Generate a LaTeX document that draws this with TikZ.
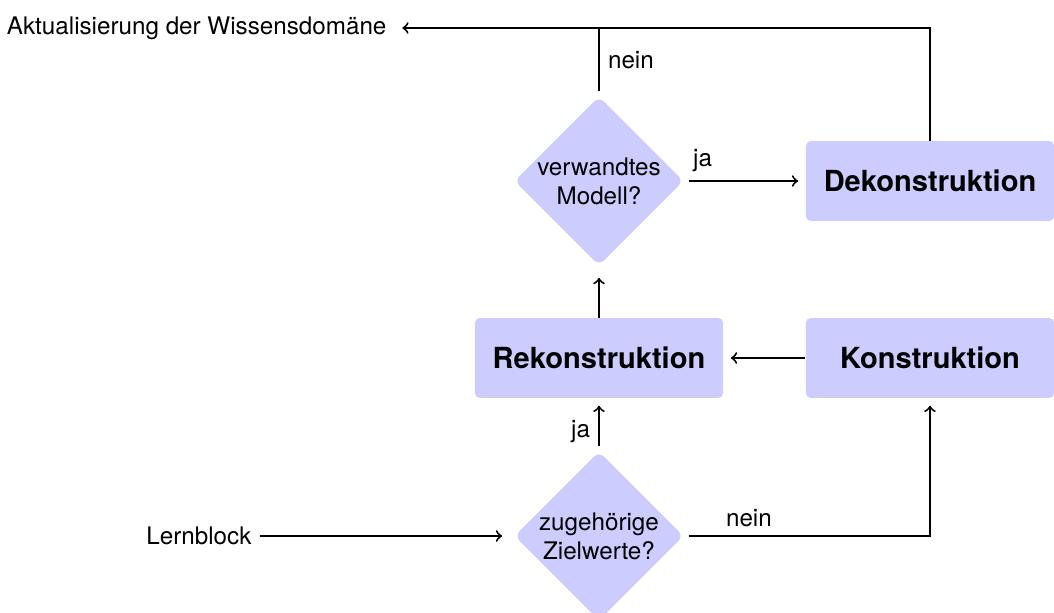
\documentclass[tikz,border=0pt]{standalone}
\usepackage{fontspec}
\setmainfont{TeX Gyre Heros}
\usetikzlibrary{shapes.geometric}
\begin{document}
\begin{tikzpicture}[x=0.413pt,y=-0.413pt,
  box/.style={rectangle, rounded corners=2pt, fill=blue!20, minimum width=102.5pt, minimum height=33pt, font=\large\bfseries},
  decision/.style={diamond, aspect=1, rounded corners=3pt, fill=blue!20, inner sep=0pt, align=center, minimum width=71pt, minimum height=71pt, outer sep=1.5pt},
  conn/.style={line width=0.8pt},
  arr/.style={conn, ->, shorten >=3pt}]
\useasboundingbox (0,0) rectangle (1054,612);
\node[decision] (d1) at (599,181) {verwandtes\\Modell?};
\node[decision] (d2) at (599,536) {zugehörige\\Zielwerte?};
\node[box] (rek) at (599,358) {Rekonstruktion};
\node[box] (kon) at (930,358) {Konstruktion};
\node[box] (dek) at (930,181) {Dekonstruktion};
\node[anchor=east] (akt) at (395,28) {Aktualisierung der Wissensdomäne};
\node[anchor=east] (lern) at (260,536) {Lernblock};
\draw[arr] (lern) -- (d2);
\draw[arr] (d2) -- node[left, pos=0.3]{ja} (rek);
\draw[arr] (rek) -- (d1);
\draw[arr] (kon) -- (rek);
\draw[arr] (d1) -- node[above, pos=0.12]{ja} (dek);
\draw[arr] (d2.east) -| node[above, pos=0.125]{nein} (kon.south);
\draw[arr] (dek.north) |- (akt.east);
\draw[conn] (d1.north) -- node[right]{nein} (d1.north |- akt.east);
\end{tikzpicture}
\end{document}
